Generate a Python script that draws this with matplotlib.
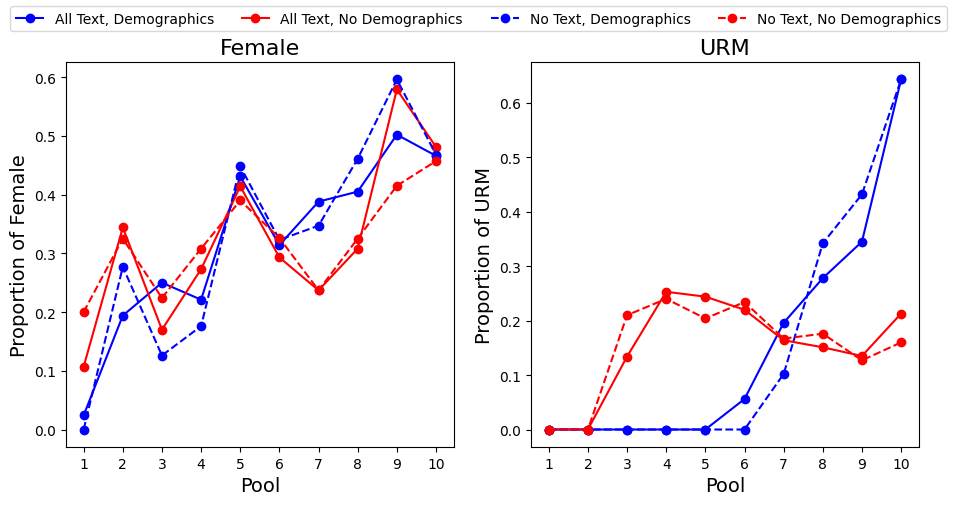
import numpy as np
import matplotlib.pyplot as plt

pools = list(range(1, 11))

# Female proportions
fem_text_demo = [0.024, 0.194, 0.250, 0.221, 0.431, 0.314, 0.388, 0.405, 0.502, 0.466]
fem_text_nodemo = [0.107, 0.344, 0.170, 0.273, 0.414, 0.293, 0.237, 0.308, 0.579, 0.481]
fem_notext_demo = [0.000, 0.277, 0.126, 0.176, 0.448, 0.323, 0.347, 0.461, 0.596, 0.468]
fem_notext_nodemo = [0.200, 0.325, 0.224, 0.308, 0.390, 0.326, 0.237, 0.325, 0.415, 0.457]

# URM proportions
urm_text_demo = [0, 0, 0, 0, 0, 0.056, 0.196, 0.278, 0.345, 0.643]
urm_text_nodemo = [0, 0, 0.134, 0.253, 0.244, 0.220, 0.164, 0.151, 0.135, 0.213]
urm_notext_demo = [0, 0, 0, 0, 0, 0, 0.102, 0.342, 0.432, 0.643]
urm_notext_nodemo = [0, 0, 0.210, 0.240, 0.204, 0.234, 0.167, 0.176, 0.127, 0.160]

fig = plt.figure(figsize=(9.57, 5.06), dpi=100)
ax1 = fig.add_axes([0.069, 0.1146, 0.405, 0.761])
ax2 = fig.add_axes([0.555, 0.1146, 0.405, 0.761])

panels = [
    (ax1, 'Female', fem_text_demo, fem_text_nodemo, fem_notext_demo, fem_notext_nodemo),
    (ax2, 'URM', urm_text_demo, urm_text_nodemo, urm_notext_demo, urm_notext_nodemo),
]

for ax, name, a, b, c, d in panels:
    ax.plot(pools, a, 'o-', color='blue', label='All Text, Demographics')
    ax.plot(pools, b, 'o-', color='red', label='All Text, No Demographics')
    ax.plot(pools, c, 'o--', color='blue', label='No Text, Demographics')
    ax.plot(pools, d, 'o--', color='red', label='No Text, No Demographics')
    ax.set_title(name, fontsize=16)
    ax.set_xlabel('Pool', fontsize=14)
    ax.set_ylabel('Proportion of ' + name, fontsize=14)
    ax.set_xticks(pools)

handles, labels = ax1.get_legend_handles_labels()
fig.legend(handles, labels, loc='upper center', ncol=4, bbox_to_anchor=(0.5, 1.0))

plt.savefig('out.png', dpi=100)
